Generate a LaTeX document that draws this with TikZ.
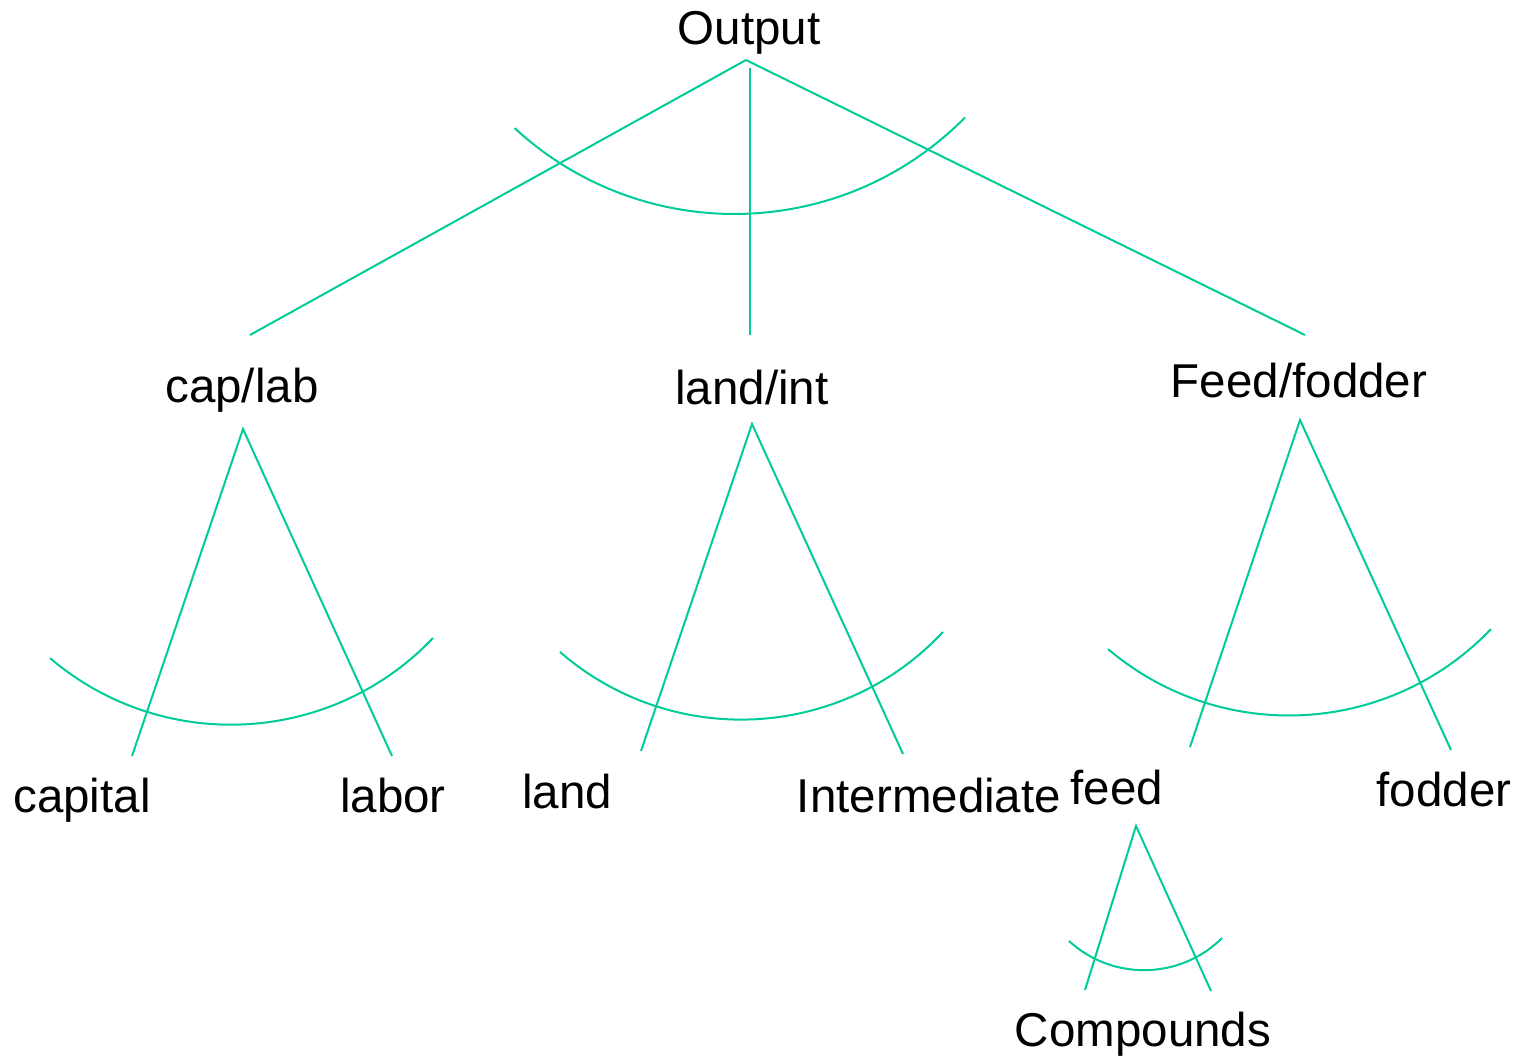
\documentclass[tikz,border=0pt]{standalone}
\usepackage{fontspec}
\setmainfont{Liberation Sans}
\usetikzlibrary{calc}
\definecolor{nestgreen}{RGB}{0,204,153}
\tikzset{
  link/.style={draw=nestgreen, line width=2pt},
  lbl/.style={inner sep=0pt, anchor=base, font=\fontsize{47.5pt}{50pt}\selectfont},
}
% #1 centre, #2 start angle, #3 end angle, #4 radius
\newcommand\elastarc[4]{\draw[link] ($(#1)+(#2:#4)$) arc[start angle=#2, end angle=#3, radius=#4];}
\begin{document}
\begin{tikzpicture}[x=1pt,y=-1pt]
\useasboundingbox (0,0) rectangle (1527,1057);

% labels
\node[lbl] (output)  at (749,45)   {Output};
\node[lbl] (caplab)  at (242,402)  {cap/lab};
\node[lbl] (landint) at (752,404)  {land/int};
\node[lbl] (feedfod) at (1299,397) {Feed/fodder};
\node[lbl] (capital) at (82,812)   {capital};
\node[lbl] (labor)   at (393,812)  {labor};
\node[lbl] (land)    at (567,808)  {land};
\node[lbl] (interm)  at (929,812)  {Intermediate};
\node[lbl] (feed)    at (1117,804) {feed};
\node[lbl] (fodder)  at (1444,806) {fodder};
\node[lbl] (compo)   at (1143,1046) {Compounds};

% connector end points
\coordinate (output-s) at (746,60);
\coordinate (output-v) at (750,68);
\coordinate (caplab-n) at (250,335);
\coordinate (landint-n) at (750,335);
\coordinate (feedfod-n) at (1305,335);
\coordinate (caplab-s) at (243,429);
\coordinate (capital-n) at (132,756);
\coordinate (labor-n) at (392,756);
\coordinate (landint-s) at (752,424);
\coordinate (land-n) at (641,751);
\coordinate (interm-n) at (903,754);
\coordinate (feedfod-s) at (1300,420);
\coordinate (feed-n) at (1190,747);
\coordinate (fodder-n) at (1451,750);
\coordinate (feed-s) at (1136,826);
\coordinate (compo-l) at (1085,990);
\coordinate (compo-r) at (1211,991);

% arc centres
\coordinate (arc-top) at (734.3,-110);
\coordinate (arc-cl) at (230.9,445.7);
\coordinate (arc-li) at (741.1,443.3);
\coordinate (arc-ff) at (1288.9,436);
\coordinate (arc-fd) at (1144,859.3);

% top level
\draw[link] (output-s) -- (caplab-n);
\draw[link] (output-v) -- (landint-n);
\draw[link] (output-s) -- (feedfod-n);
\elastarc{arc-top}{132.7}{44.6}{324}

% cap/lab nest
\draw[link] (capital-n) -- (caplab-s) -- (labor-n);
\elastarc{arc-cl}{130.4}{43.6}{279}

% land/int nest
\draw[link] (land-n) -- (landint-s) -- (interm-n);
\elastarc{arc-li}{130.95}{43.06}{276.3}

% feed/fodder nest
\draw[link] (feed-n) -- (feedfod-s) -- (fodder-n);
\elastarc{arc-ff}{130.3}{43.7}{279.5}

% feed nest
\draw[link] (compo-l) -- (feed-s) -- (compo-r);
\elastarc{arc-fd}{132.6}{45.3}{110.9}
\end{tikzpicture}
\end{document}
